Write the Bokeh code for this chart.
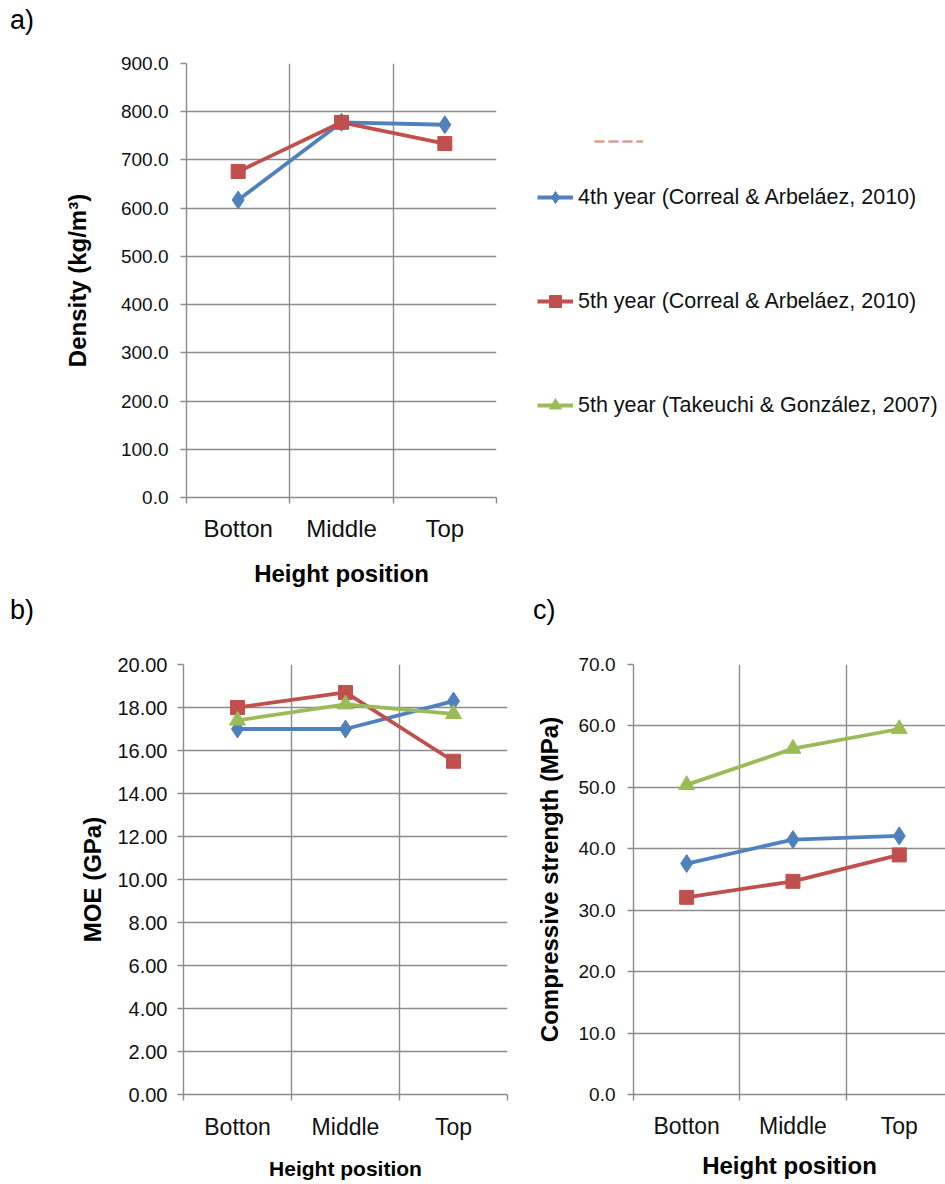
from bokeh.plotting import figure
from bokeh.models import (Range1d, FixedTicker, NumeralTickFormatter, Div,
                          Legend, LegendItem, ColumnDataSource)
from bokeh.layouts import column, row
from bokeh.embed import file_html
from bokeh.resources import INLINE

# ---------------- data ----------------
categories = ["Botton", "Middle", "Top"]
series_names = ["4th year (Correal & Arbeláez, 2010)",
                "5th year (Correal & Arbeláez, 2010)",
                "5th year (Takeuchi & González, 2007)"]
panel_tags = ["a)", "b)", "c)"]

density_4th = [617, 778, 773]
density_5th_ca = [676, 778, 734]

moe_4th = [17.0, 17.0, 18.3]
moe_5th_ca = [18.0, 18.7, 15.5]
moe_5th_tg = [17.4, 18.15, 17.7]

comp_4th = [37.6, 41.5, 42.1]
comp_5th_ca = [32.1, 34.7, 39.0]
comp_5th_tg = [50.4, 56.3, 59.5]

density_ticks = [0, 100, 200, 300, 400, 500, 600, 700, 800, 900]
moe_ticks = [0, 2, 4, 6, 8, 10, 12, 14, 16, 18, 20]
comp_ticks = [0, 10, 20, 30, 40, 50, 60, 70]

# ---------------- style ----------------
FONT = "Liberation Sans"
BLUE, RED, GREEN = "#4F81BD", "#C0504D", "#9BBB59"
GRID = "#8c8c8c"
TXT = "#111111"

xs = [i + 0.5 for i in range(len(categories))]
bounds = list(range(len(categories) + 1))


def panel(width, height, left, right, top, bottom, x_end, yticks, fmt, ylabel,
          tick_size, cat_size, xt_size, ylab_standoff, ytick_standoff,
          cat_standoff, xt_standoff):
    p = figure(width=width, height=height, output_backend="svg",
               toolbar_location=None,
               x_range=Range1d(0, x_end), y_range=Range1d(0, yticks[-1]),
               min_border_left=left, min_border_right=right,
               min_border_top=top, min_border_bottom=bottom)
    p.outline_line_color = None
    p.background_fill_color = "white"
    p.border_fill_color = "white"

    vis_bounds = [b for b in bounds if b <= x_end + 1e-9]
    # x axis
    xa = p.xaxis[0]
    xa.ticker = FixedTicker(ticks=xs, minor_ticks=vis_bounds)
    xa.major_label_overrides = {x: c for x, c in zip(xs, categories)}
    xa.major_tick_line_color = None
    xa.major_tick_out = 0
    xa.major_tick_in = 0
    xa.minor_tick_out = 6
    xa.minor_tick_in = 0
    xa.minor_tick_line_color = GRID
    xa.minor_tick_line_width = 1.4
    xa.axis_line_color = GRID
    xa.axis_line_width = 1.4
    xa.major_label_text_font = FONT
    xa.major_label_text_font_size = cat_size
    xa.major_label_text_color = TXT
    xa.major_label_standoff = cat_standoff
    xa.axis_label = "Height position"
    xa.axis_label_text_font = FONT
    xa.axis_label_text_font_style = "bold"
    xa.axis_label_text_font_size = xt_size
    xa.axis_label_text_color = "black"
    xa.axis_label_standoff = xt_standoff

    # y axis
    ya = p.yaxis[0]
    ya.ticker = FixedTicker(ticks=yticks, minor_ticks=[])
    ya.formatter = NumeralTickFormatter(format=fmt)
    ya.major_tick_out = 6
    ya.major_tick_in = 0
    ya.major_tick_line_color = GRID
    ya.major_tick_line_width = 1.4
    ya.minor_tick_line_color = None
    ya.axis_line_color = GRID
    ya.axis_line_width = 1.4
    ya.major_label_text_font = FONT
    ya.major_label_text_font_size = tick_size
    ya.major_label_text_color = TXT
    ya.major_label_standoff = ytick_standoff
    ya.axis_label = ylabel
    ya.axis_label_text_font = FONT
    ya.axis_label_text_font_style = "bold"
    ya.axis_label_text_font_size = "24px"
    ya.axis_label_text_color = "black"
    ya.axis_label_standoff = ylab_standoff

    # grids
    p.xgrid.ticker = FixedTicker(ticks=vis_bounds)
    p.ygrid.ticker = FixedTicker(ticks=yticks)
    p.grid.grid_line_color = GRID
    p.grid.grid_line_width = 1.4
    return p


MARKERS = {"diamond": 18, "square": 14, "triangle": 16}


def add_series(p, vals, color, marker):
    p.line(xs, vals, line_color=color, line_width=3.8)
    p.scatter(xs, vals, marker=marker, size=MARKERS[marker], fill_color=color,
              line_color=color)


TAG_STYLE = ("font-family:'Liberation Sans';font-size:27px;color:black;"
             "position:relative;height:40px;line-height:40px;")

# ---------------- tag strip a) ----------------
tag_a = Div(text=f'<div style="{TAG_STYLE}"><span style="position:absolute;'
                 f'left:10px;">{panel_tags[0]}</span></div>',
            width=945, height=40, margin=0)

# ---------------- panel a ----------------
pa = panel(520, 550, 186, 24, 23, 93, 3, density_ticks, "0.0",
           "Density (kg/m³)", "19px", "24px", "24px", 27, 12, 11, 15)
add_series(pa, density_4th, BLUE, "diamond")
add_series(pa, density_5th_ca, RED, "square")

# ---------------- legend figure ----------------
lg = figure(width=425, height=550, output_backend="svg", toolbar_location=None,
            x_range=Range1d(0, 1), y_range=Range1d(0, 1),
            x_axis_type=None, y_axis_type=None, min_border=0)
lg.outline_line_color = None
lg.grid.visible = False
nan = float("nan")
src = ColumnDataSource(dict(x=[nan], y=[nan]))
items = []
for name, color, marker in zip(series_names, [BLUE, RED, GREEN],
                               ["diamond", "square", "triangle"]):
    rl = lg.line("x", "y", source=src, line_color=color, line_width=3.8)
    rm = lg.scatter("x", "y", source=src, marker=marker, size=14,
                    fill_color=color, line_color=color)
    items.append(LegendItem(label=name, renderers=[rl, rm]))
legend = Legend(items=items, location=(17, 77), orientation="vertical",
                glyph_width=36, glyph_height=30, label_height=30, spacing=74,
                label_standoff=5, padding=0, margin=0,
                border_line_color=None, background_fill_alpha=0,
                label_text_font=FONT, label_text_font_size="21.5px",
                label_text_color=TXT)
lg.add_layout(legend, "center")

rd1 = lg.line("x", "y", source=src, line_color=RED, line_width=2.5,
              line_alpha=0.55, line_dash="10 4")
rd2 = lg.line("x", "y", source=src, line_color=GREEN, line_width=1,
              line_alpha=0.8, line_dash="10 4")
legend2 = Legend(items=[LegendItem(label=" ", renderers=[rd1, rd2])],
                 location=(74, 351), glyph_width=49, glyph_height=10,
                 label_height=10, label_text_font_size="8px", padding=0,
                 margin=0, border_line_color=None, background_fill_alpha=0)
lg.add_layout(legend2, "center")

# ---------------- tag strip b) c) ----------------
tag_bc = Div(text=f'<div style="{TAG_STYLE}"><span style="position:absolute;'
                  f'left:10px;">{panel_tags[1]}</span><span style="position:'
                  f'absolute;left:533px;">{panel_tags[2]}</span></div>',
             width=945, height=40, margin=0)

# ---------------- panel b ----------------
pb = panel(520, 554, 183, 13, 34, 90, 3, moe_ticks, "0.00", "MOE (GPa)",
           "20px", "23px", "21px", 8, 10, 13, 14)
add_series(pb, moe_4th, BLUE, "diamond")
add_series(pb, moe_5th_ca, RED, "square")
add_series(pb, moe_5th_tg, GREEN, "triangle")

# ---------------- panel c ----------------
pc = panel(425, 554, 113, 0, 34, 90, 2.935, comp_ticks, "0.0",
           "Compressive strength (MPa)", "19px", "23px", "24px", 13, 12, 12,
           10)
add_series(pc, comp_4th, BLUE, "diamond")
add_series(pc, comp_5th_ca, RED, "square")
add_series(pc, comp_5th_tg, GREEN, "triangle")

layout = column(tag_a, row(pa, lg), tag_bc, row(pb, pc))
open("out.html", "w").write(file_html(layout, INLINE))
